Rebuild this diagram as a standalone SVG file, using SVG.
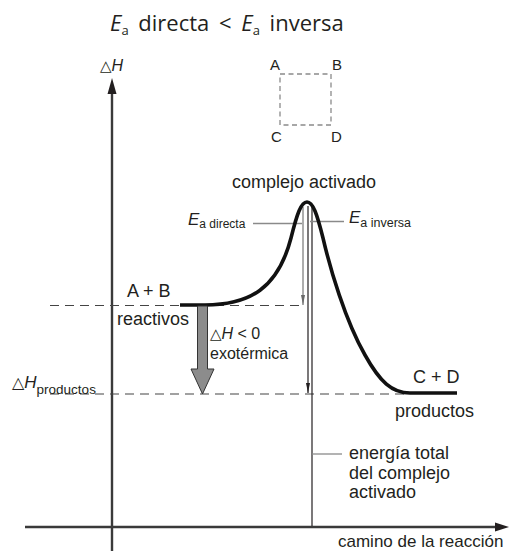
<svg xmlns="http://www.w3.org/2000/svg" width="513" height="551" viewBox="0 0 513 551">
<style>
text{font-family:"Liberation Sans",Arial,sans-serif;fill:#231f20}
.t18{font-size:18px}
.t15{font-size:15px}
.i{font-style:italic}
.tri{font-family:"DejaVu Sans",sans-serif}
.axis{stroke:#3a3a3a;stroke-width:2.4;fill:none}
.dash{stroke:#444;stroke-width:1.1;stroke-dasharray:9 6;fill:none}
.lead{stroke:#8a8a8a;stroke-width:1.3;fill:none}
.thin{stroke:#231f20;stroke-width:1.2;fill:none}
.thing{stroke:#8a8a8a;stroke-width:1.4;fill:none}
</style>
<defs>
<marker id="ah" viewBox="0 0 10 4" markerWidth="10" markerHeight="4" refX="10" refY="2" orient="auto" markerUnits="userSpaceOnUse">
<path d="M0,0 L10,2 L0,4 z" fill="#231f20"/>
</marker>
<marker id="ahg" viewBox="0 0 10 4" markerWidth="10" markerHeight="4" refX="10" refY="2" orient="auto" markerUnits="userSpaceOnUse">
<path d="M0,0 L10,2 L0,4 z" fill="#6a6a6a"/>
</marker>
</defs>

<g id="title">
<text x="110" y="31" style="font-family:'Open Sans',sans-serif;font-size:22px;word-spacing:4px"><tspan class="i">E</tspan><tspan style="font-size:13px" dy="4">a</tspan><tspan dy="-4"> directa &lt; </tspan><tspan class="i">E</tspan><tspan style="font-size:13px" dy="4">a</tspan><tspan dy="-4"> inversa</tspan></text>
</g>

<g id="axes">
<path class="axis" d="M112,551 V90"/>
<polygon points="112,78 107.5,94 116.5,94" fill="#231f20"/>
<text x="100" y="71" style="font-size:16px"><tspan class="tri" style="font-size:15px">△</tspan><tspan class="i">H</tspan></text>
<path class="axis" d="M25,527 H498"/>
<polygon points="509,527 495,522.5 495,531.5" fill="#231f20"/>
<text x="338" y="546.5" style="font-size:17px">camino de la reacción</text>
</g>

<g id="square">
<rect x="280" y="74" width="51" height="51" fill="none" stroke="#8a8a8a" stroke-width="1.3" stroke-dasharray="5 3.5"/>
<text x="270" y="70" class="t15">A</text>
<text x="332" y="70" class="t15">B</text>
<text x="271" y="142" class="t15">C</text>
<text x="331" y="142" class="t15">D</text>
</g>

<g id="connectors">
<path class="dash" d="M50,305.5 H303"/>
<path class="dash" d="M50,394 H406"/>
<path class="thing" d="M303,207 V305" marker-end="url(#ahg)"/>
<path class="thin" d="M308,206 V393" marker-end="url(#ah)"/>
<path class="thin" d="M312,207 V526"/>
<path class="lead" d="M253,223.5 H302"/>
<path class="lead" d="M310,221.5 H344"/>
<path class="lead" d="M312,454 H342"/>
</g>

<g id="curve">
<path d="M180,305 H205 C250,305 278,288 291,238 C297,214 301,202 307,202 C313,202 317,214 323,238 C330,268 345,320 365,355 C380,382 392,393 410,393 H457" fill="none" stroke="#111" stroke-width="3.6" stroke-linejoin="round"/>
</g>

<g id="complejo">
<text x="232" y="188" class="t18">complejo activado</text>
</g>

<g id="ea-directa">
<text x="188" y="225" style="font-size:17px"><tspan class="i">E</tspan><tspan style="font-size:12px" dy="3">a directa</tspan></text>
</g>

<g id="ea-inversa">
<text x="349" y="223" style="font-size:17px"><tspan class="i">E</tspan><tspan style="font-size:12.5px" dy="4">a inversa</tspan></text>
</g>

<g id="reactivos">
<text x="127" y="297" class="t18">A + B</text>
<text x="117" y="325" class="t18">reactivos</text>
</g>

<g id="deltaH">
<polygon points="197.5,306 207.5,306 207.5,369 214,369 202.5,394 191,369 197.5,369" fill="#8c8c8c" stroke="#333" stroke-width="1"/>
<text x="210" y="339" style="font-size:16px"><tspan class="tri" style="font-size:15px">△</tspan><tspan class="i">H</tspan> &lt; 0</text>
<text x="210" y="358.5" style="font-size:16px">exotérmica</text>
</g>

<g id="dh-productos">
<text x="12" y="388" style="font-size:17px"><tspan class="tri" style="font-size:16px">△</tspan><tspan class="i">H</tspan><tspan style="font-size:13.5px" dy="6">productos</tspan></text>
</g>

<g id="productos">
<text x="413" y="383" class="t18">C + D</text>
<text x="395" y="417" class="t18">productos</text>
</g>

<g id="energia">
<text x="349" y="459" class="t18">energía total</text>
<text x="349" y="479" class="t18">del complejo</text>
<text x="349" y="498" class="t18">activado</text>
</g>
</svg>
